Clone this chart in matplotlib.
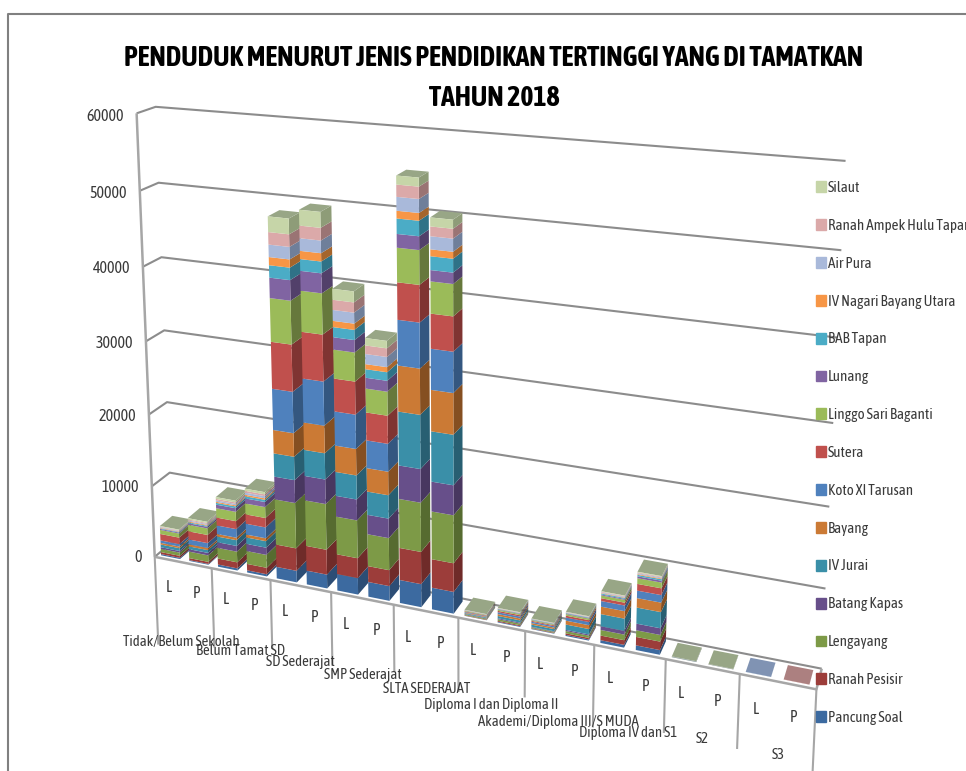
import matplotlib
matplotlib.use("Agg")
import matplotlib.pyplot as plt
from matplotlib.patches import Patch
from mpl_toolkits.mplot3d.art3d import Line3DCollection
import numpy as np
import logging

logging.getLogger("matplotlib.font_manager").setLevel(logging.ERROR)
plt.rcParams['font.family'] = ['Asap Condensed', 'Archivo Narrow', 'Lato', 'DejaVu Sans']

title_lines = ["PENDUDUK MENURUT JENIS PENDIDIKAN TERTINGGI YANG DI TAMATKAN", "TAHUN 2018"]

categories = ["Tidak/Belum Sekolah", "Belum Tamat SD", "SD Sederajat", "SMP Sederajat", "SLTA SEDERAJAT",
              "Diploma I dan Diploma II", "Akademi/Diploma III/S MUDA", "Diploma IV dan S1", "S2", "S3"]
genders = ["L", "P"]
y_ticks = [0, 10000, 20000, 30000, 40000, 50000, 60000]

series = ["Pancung Soal", "Ranah Pesisir", "Lengayang", "Batang Kapas", "IV Jurai", "Bayang", "Koto XI Tarusan",
          "Sutera", "Linggo Sari Baganti", "Lunang", "BAB Tapan", "IV Nagari Bayang Utara", "Air Pura",
          "Ranah Ampek Hulu Tapan", "Silaut"]

# one row per bar (L, P for each category), one column per series
values = [
    [170, 290, 460, 230, 400, 230, 350, 920, 580, 140, 90, 70, 90, 80, 90],
    [115, 290, 920, 350, 400, 290, 690, 1150, 920, 230, 140, 115, 140, 140, 170],
    [300, 850, 1500, 800, 800, 350, 1200, 1100, 1300, 500, 250, 150, 200, 200, 250],
    [300, 900, 1800, 1000, 900, 400, 1500, 1300, 1500, 700, 300, 200, 300, 250, 300],
    [1600, 3100, 6200, 3100, 3150, 3150, 5500, 6200, 5700, 2650, 1600, 1050, 1600, 1600, 2000],
    [1900, 3400, 6200, 3300, 3500, 3650, 5800, 6100, 5300, 2550, 1500, 1050, 1600, 1600, 2000],
    [2250, 2700, 5100, 2800, 3200, 3500, 4500, 4300, 3750, 1600, 1300, 800, 1400, 1300, 1400],
    [2000, 2150, 4300, 2600, 3100, 3100, 3650, 3650, 3100, 1400, 1100, 650, 1300, 1100, 950],
    [3100, 4300, 6500, 4400, 7000, 5900, 5800, 4700, 4300, 1700, 1900, 950, 1700, 1500, 1100],
    [2900, 3800, 6300, 3900, 6500, 5300, 5200, 4400, 4000, 1400, 1700, 850, 1600, 1200, 1100],
    [30, 60, 120, 60, 100, 80, 80, 80, 80, 30, 20, 10, 20, 20, 20],
    [100, 120, 220, 120, 300, 250, 250, 180, 150, 60, 50, 30, 40, 30, 30],
    [60, 70, 120, 70, 280, 200, 180, 120, 110, 50, 50, 20, 30, 20, 20],
    [150, 200, 300, 150, 700, 500, 400, 250, 200, 80, 70, 30, 50, 40, 30],
    [360, 600, 720, 480, 1560, 960, 720, 360, 360, 120, 120, 60, 95, 85, 60],
    [600, 1080, 850, 850, 2050, 1200, 950, 850, 720, 240, 180, 95, 120, 95, 85],
    [5, 5, 15, 5, 30, 10, 10, 5, 5, 2, 5, 2, 2, 2, 2],
    [3, 5, 10, 5, 15, 5, 5, 3, 3, 1, 3, 1, 1, 1, 1],
    [20, 0, 0, 0, 0, 0, 0, 0, 0, 0, 0, 0, 0, 0, 0],
    [0, 20, 0, 0, 0, 0, 0, 0, 0, 0, 0, 0, 0, 0, 0],
]

front_colors = ["#3C6AA0", "#9C3D3A", "#7D9A47", "#674F8A", "#3A8FA8", "#CB7A35", "#4F81BD", "#C0504D",
                "#9BBB59", "#8064A2", "#4BACC6", "#F79646", "#A9B9DA", "#DBA9A9", "#C6D5A8"]
side_colors = ["#2C4D75", "#6F2B29", "#566B30", "#483760", "#285F72", "#854F21", "#345780", "#7F3432",
               "#66783C", "#52406A", "#2F7287", "#A5652C", "#6F7F9A", "#9A7474", "#8E9C78"]
top_colors = {0: "#8093B3", 1: "#AC8080", 14: "#98A686"}
none = (0, 0, 0, 0)
line_col = "#8C8C8C"
text_col = "#3A3A3A"

# picture positions of known chart corners, used to fit the camera
# (bar cell, depth, value) -> pixel
calib = [
    (0, 0, 0, 155, 556), (2, 0, 0, 212, 568), (4, 0, 0, 271, 580), (6, 0, 0, 331, 592), (8, 0, 0, 394, 605),
    (10, 0, 0, 458, 618), (12, 0, 0, 525, 631), (14, 0, 0, 594, 647), (16, 0, 0, 666, 660), (18, 0, 0, 739, 673),
    (20, 0, 0, 817, 689), (0, 0, 60000, 136, 114), (0, 0, 30000, 146, 340),
    (0, 1, 0, 172, 543), (0, 1, 60000, 156, 107), (0, 1, 30000, 164, 330),
    (20, 1, 0, 822, 668), (20, 1, 10000, 825, 588), (20, 1, 60000, 846, 161),
]

# how far each category separator hangs below the floor
tick_drop = [-12700, -11300, -9700, -10200, -9200, -10000, -8800, -10800, -9500, -9500, -12000]
cat_label_z = [-11500, -11000, -10600, -10500, -10500, -10800, -11100, -10500, -9200, -9100]
cat_label_dx = [-0.15, -0.1, -0.05, 0, 0, 0, 0, 0, 0.05, 0.08]


def fit_camera(points):
    rows = []
    rhs = []
    for x, d, z, u, v in points:
        z = z / 10000
        rows.append([x, d, z, 1, 0, 0, 0, 0, -u * x, -u * d, -u * z])
        rhs.append(u)
        rows.append([0, 0, 0, 0, x, d, z, 1, -v * x, -v * d, -v * z])
        rhs.append(v)
    p = np.linalg.lstsq(np.array(rows, float), np.array(rhs, float), rcond=None)[0]
    m = np.array([
        [p[0], p[1], p[2] / 10000, p[3]],
        [p[4], p[5], p[6] / 10000, p[7]],
        [0, 1, 0, 0],
        [p[8], p[9], p[10] / 10000, 1],
    ])
    return m


fig = plt.figure(figsize=(9.66, 7.71), dpi=100)
ax = fig.add_axes([0, 0, 1, 1], projection="3d")
ax.set_axis_off()
ax.computed_zorder = False
cam = fit_camera(calib)
ax.get_proj = lambda: cam
ax.apply_aspect = lambda position=None: None

# walls and floor
grid = [[(0, 0, v), (0, 1, v), (20, 1, v)] for v in y_ticks]
ax.add_collection3d(Line3DCollection(grid, colors=line_col, linewidths=1.5, zorder=1))
frame = [[(0, 0, 0), (0, 0, 30000), (0, 0, 60000)], [(0, 0, 0), (20, 0, 0), (20, 1, 0)]]
ax.add_collection3d(Line3DCollection(frame, colors="#A6A6A6", linewidths=1.8, zorder=1))

# category separators below the floor
seps = [[(i * 2, 0, 0), (i * 2, 0, tick_drop[i])] for i in range(len(categories) + 1)]
ax.add_collection3d(Line3DCollection(seps, colors="#A6A6A6", linewidths=1.5, zorder=1))

# bars, left to right, bottom to top
bar_x = 0.13
bar_w = 0.67
bar_d0 = 0.15
bar_d = 0.7
order = 2
for b, row in enumerate(values):
    base = 0
    top_idx = max(i for i, val in enumerate(row) if val > 0)
    for s, val in enumerate(row):
        if val <= 0:
            continue
        top = top_colors.get(s, none) if s == top_idx else none
        # faces: bottom, top, front, back, left, right
        faces = [none, top, front_colors[s], none, none, side_colors[s]]
        ax.bar3d(b + bar_x, bar_d0, base, bar_w, bar_d, val, color=faces, shade=False,
                 edgecolor="none", linewidth=0, zorder=order)
        order += 1
        base += val

ax.viewLim.intervalx = (0, 966)
ax.viewLim.intervaly = (771, 0)

# labels
for v in y_ticks:
    ax.text(-0.45, 0, v - 500, str(v), ha="right", va="center", fontsize=11.5, color=text_col, zorder=1000)
for b in range(len(values)):
    ax.text(b + 0.45, 0, -4000, genders[b % 2], ha="center", va="center", fontsize=11.5, color=text_col, zorder=1000)
for i, c in enumerate(categories):
    ax.text(i * 2 + 1 + cat_label_dx[i], 0, cat_label_z[i], c, ha="center", va="center", fontsize=10.6,
            color=text_col, zorder=1000)

fig.text(494 / 966, 1 - 58 / 771, title_lines[0], ha="center", va="center", fontsize=20, fontweight="bold", color="black")
fig.text(494 / 966, 1 - 99 / 771, title_lines[1], ha="center", va="center", fontsize=20, fontweight="bold", color="black")

handles = [Patch(color=c) for c in front_colors[::-1]]
fig.legend(handles, series[::-1], loc="upper left", bbox_to_anchor=(816 / 966, 1 - 181 / 771), frameon=False, fontsize=10.8,
           labelspacing=1.59, handlelength=0.67, handleheight=0.73, handletextpad=0.1, borderpad=0, borderaxespad=0,
           labelcolor=text_col)

fig.add_artist(plt.Line2D([8 / 966, 8 / 966, 1], [0, 757 / 771, 757 / 771], color="#808080", lw=1.5))
fig.savefig("out.png", dpi=100)
